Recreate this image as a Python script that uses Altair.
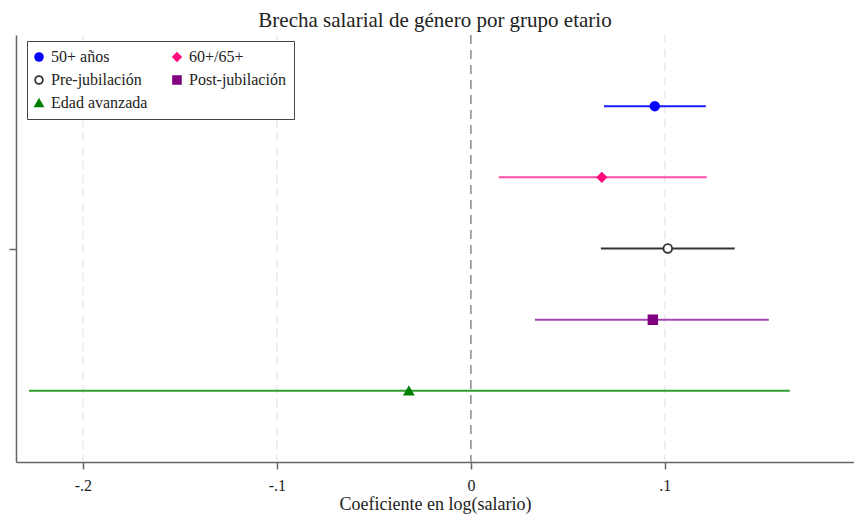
import altair as alt
import pandas as pd

groups = ["50+ años", "60+/65+", "Pre-jubilación", "Post-jubilación", "Edad avanzada"]
rows = [1, 2, 3, 4, 5]
coef = [0.0948, 0.0675, 0.1015, 0.0938, -0.032]
ci_low = [0.0686, 0.0144, 0.067, 0.033, -0.2278]
ci_high = [0.1211, 0.1216, 0.136, 0.1536, 0.1644]
marker_colors = ["#0000ff", "#ff0a7f", "#333333", "#800080", "#008000"]
line_colors = ["#1a1aff", "#ff4da6", "#333333", "#a347b5", "#2e9e2e"]
fill_colors = ["#0000ff", "#ff0a7f", "#ffffff", "#800080", "#008000"]
shapes = ["circle", "diamond", "circle", "square", "triangle-up"]
x_ticks = [-0.2, -0.1, 0, 0.1, 0.2]
grid_ticks = [-0.2, -0.1, 0.1, 0.2]

df = pd.DataFrame({"grupo": groups, "fila": rows, "coef": coef,
                   "lo": ci_low, "hi": ci_high})

SERIF = "Liberation Serif"
xscale = alt.Scale(domain=[-0.2345, 0.1975], nice=False, zero=False)
yscale = alt.Scale(domain=[0, 6], reverse=True, nice=False)

label_expr = ("datum.value == 0 ? '0' : (datum.value < 0 ? '-' : '') + "
              "replace(format(abs(datum.value), '.1f'), '0.', '.')")

xaxis = alt.Axis(values=x_ticks, grid=False, labelExpr=label_expr,
                 labelFont=SERIF, labelFontSize=16, labelColor="#222",
                 labelPadding=8, tickSize=7, tickColor="#666", tickWidth=1.5,
                 domainColor="#666", domainWidth=1.5,
                 title="Coeficiente en log(salario)", titleFont=SERIF,
                 titleFontSize=18, titleFontWeight="normal", titleColor="#222",
                 titlePadding=2)
yaxis = alt.Axis(values=[3], labels=False, grid=False, tickSize=7,
                 tickColor="#666", tickWidth=1.5, domainColor="#666",
                 domainWidth=1.5, title=None)

grid = alt.Chart(pd.DataFrame({"v": grid_ticks})).mark_rule(
    color="#e4e4e4", strokeDash=[8, 6], strokeWidth=1.2
).encode(
    x=alt.X("v:Q", scale=xscale, axis=xaxis),
)

zero = alt.Chart(pd.DataFrame({"v": [0]})).mark_rule(
    color="#8a8a8a", strokeDash=[9, 6], strokeWidth=1.5
).encode(
    x=alt.X("v:Q", scale=xscale, axis=xaxis),
)

bars = alt.Chart(df).mark_rule(strokeWidth=2).encode(
    x=alt.X("lo:Q", scale=xscale, axis=xaxis),
    x2="hi:Q",
    y=alt.Y("fila:Q", scale=yscale, axis=yaxis),
    color=alt.Color("grupo:N", scale=alt.Scale(domain=groups, range=line_colors), legend=None),
)

legend = alt.Legend(orient="none", legendX=11, legendY=6, columns=2,
                    direction="horizontal",
                    title=None, strokeColor="#444", padding=8,
                    labelFont=SERIF, labelFontSize=16, labelColor="#222",
                    symbolSize=60, symbolStrokeWidth=1.8, rowPadding=7,
                    columnPadding=21, labelOffset=4, symbolOffset=-4,
                    fillColor="white")

points = alt.Chart(df).mark_point(size=75, opacity=1, strokeWidth=1.8).encode(
    x=alt.X("coef:Q", scale=xscale, axis=xaxis),
    y=alt.Y("fila:Q", scale=yscale, axis=yaxis),
    shape=alt.Shape("grupo:N", scale=alt.Scale(domain=groups, range=shapes), legend=legend),
    fill=alt.Fill("grupo:N", scale=alt.Scale(domain=groups, range=fill_colors), legend=legend),
    stroke=alt.Stroke("grupo:N", scale=alt.Scale(domain=groups, range=marker_colors), legend=legend),
)

chart = alt.layer(grid, zero, bars, points).resolve_scale(color="independent").properties(
    width=838, height=427,
    title=alt.Title("Brecha salarial de género por grupo etario", font=SERIF,
                    fontSize=21, fontWeight="normal", color="#222", offset=3),
    autosize=alt.AutoSizeParams(type="none"),
    padding={"left": 8, "top": 27, "right": 0, "bottom": 53},
).configure_view(stroke=None)

chart.save("out.html", embed_options={"renderer": "svg", "actions": False})
